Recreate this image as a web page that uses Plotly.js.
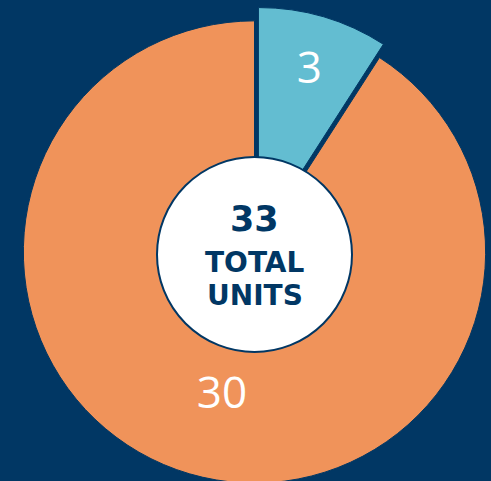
<!DOCTYPE html>
<html>
<head>
<meta charset="utf-8">
<script src="https://cdn.plot.ly/plotly-3.0.1.min.js"></script>
<style>
html,body{margin:0;padding:0;background:#013764;overflow:hidden;}
#chart{width:510px;height:500px;}
</style>
</head>
<body>
<div id="chart"></div>
<script>
const categories = ["Segment A", "Segment B"];
const values = [3, 30];
const sliceColors = ["#63BDD1", "#F0935A"];
const pulls = [0.06, 0];
const labelTemplates = ["%{value}", "&nbsp;<br>%{value}"];
const totalValue = 33;
const centerLines = ["TOTAL", "UNITS"];

const W = 510, H = 500;
const navy = "#013764";

const trace = {
  type: "pie",
  labels: categories,
  values: values,
  sort: false,
  direction: "clockwise",
  rotation: 0,
  pull: pulls,
  marker: {colors: sliceColors, line: {color: navy, width: 1}},
  texttemplate: labelTemplates,
  textposition: "inside",
  insidetextorientation: "horizontal",
  textfont: {family: "Open Sans, sans-serif", size: 44, color: "#FFFFFF"},
  hoverinfo: "none",
  showlegend: false,
  domain: {x: [9.5 / W, 499.5 / W], y: [3 / H, 493 / H]}
};

const cx = 254.5, cy = 254.5, cr = 97.5;
const layout = {
  width: W,
  height: H,
  margin: {l: 0, r: 0, t: 0, b: 0},
  paper_bgcolor: navy,
  plot_bgcolor: navy,
  showlegend: false,
  shapes: [{
    type: "circle",
    xref: "paper", yref: "paper",
    x0: (cx - cr) / W, x1: (cx + cr) / W,
    y0: (H - cy - cr) / H, y1: (H - cy + cr) / H,
    fillcolor: "#FFFFFF",
    line: {color: navy, width: 2},
    layer: "above"
  }],
  annotations: [
    {text: "<b>" + totalValue + "</b>", xref: "paper", yref: "paper", x: cx / W, y: (H - 219.5) / H,
     showarrow: false, xanchor: "center", yanchor: "middle",
     font: {family: "DejaVu Sans, sans-serif", size: 35, color: navy}},
    {text: "<b>" + centerLines[0] + "</b>", xref: "paper", yref: "paper", x: cx / W, y: (H - 262) / H,
     showarrow: false, xanchor: "center", yanchor: "middle",
     font: {family: "DejaVu Sans, sans-serif", size: 28, color: navy}},
    {text: "<b>" + centerLines[1] + "</b>", xref: "paper", yref: "paper", x: cx / W, y: (H - 295) / H,
     showarrow: false, xanchor: "center", yanchor: "middle",
     font: {family: "DejaVu Sans, sans-serif", size: 28, color: navy}}
  ]
};

Plotly.newPlot("chart", [trace], layout, {displayModeBar: false, staticPlot: true});
</script>
</body>
</html>
